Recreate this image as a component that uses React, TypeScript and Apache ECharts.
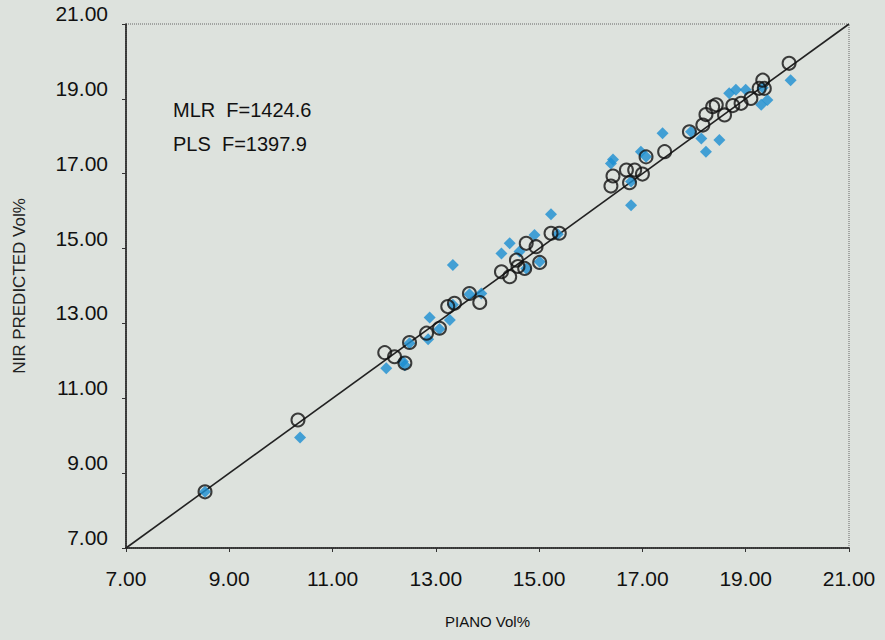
import React, { useEffect, useRef } from "react";
import * as echarts from "echarts";

const axisTicks = [7, 9, 11, 13, 15, 17, 19, 21];
const identityLine: [number, number][] = [[7, 7], [21, 21]];

const mlrPoints: [number, number][] = [
  [8.53, 8.5], [10.37, 9.95], [12.04, 11.8], [12.36, 11.98], [12.4, 11.88],
  [12.49, 12.47], [12.85, 12.58], [12.88, 13.16], [13.07, 12.85], [13.27, 13.09],
  [13.33, 13.5], [13.33, 14.56], [13.65, 13.78], [13.88, 13.8], [14.27, 14.87],
  [14.43, 15.14], [14.62, 14.92], [14.75, 14.47], [14.91, 15.36], [15.01, 14.65],
  [15.23, 15.92], [15.36, 15.38], [16.39, 17.27], [16.43, 17.38], [16.78, 16.79],
  [16.78, 16.16], [16.97, 17.59], [17.07, 17.45], [17.39, 18.08], [17.94, 18.12],
  [18.14, 17.94], [18.23, 17.59], [18.49, 17.9], [18.68, 19.15], [18.81, 19.24],
  [19.0, 19.24], [19.3, 18.84], [19.42, 18.97], [19.33, 19.3], [19.87, 19.5],
];

const plsPoints: [number, number][] = [
  [8.53, 8.5], [10.33, 10.42], [12.01, 12.22], [12.2, 12.11], [12.4, 11.94],
  [12.49, 12.49], [12.82, 12.74], [13.07, 12.87], [13.23, 13.45], [13.36, 13.54],
  [13.65, 13.8], [13.85, 13.56], [14.27, 14.38], [14.43, 14.25], [14.56, 14.69],
  [14.59, 14.52], [14.72, 14.47], [14.75, 15.14], [14.94, 15.05], [15.01, 14.63],
  [15.23, 15.41], [15.39, 15.41], [16.39, 16.67], [16.43, 16.94], [16.69, 17.1],
  [16.75, 16.76], [16.85, 17.1], [17.0, 16.99], [17.07, 17.45], [17.43, 17.59],
  [17.91, 18.12], [18.17, 18.3], [18.23, 18.58], [18.36, 18.79], [18.43, 18.84],
  [18.59, 18.57], [18.75, 18.82], [18.91, 18.88], [19.1, 19.01], [19.26, 19.28],
  [19.36, 19.28], [19.33, 19.5], [19.84, 19.95],
];

const annotations = ["MLR  F=1424.6", "PLS  F=1397.9"];

const FONT = "'Liberation Sans', Arial, sans-serif";

export default function App() {
  const ref = useRef<HTMLDivElement>(null);
  useEffect(() => {
    if (!ref.current) return;
    const chart = echarts.init(ref.current, undefined, { renderer: "svg" });
    const axisCommon = {
      type: "value" as const,
      min: axisTicks[0],
      max: axisTicks[axisTicks.length - 1],
      interval: 2,
      splitLine: { show: false },
      axisLine: { show: true, lineStyle: { color: "#111", width: 1.5 } },
      axisTick: { show: true, length: 4, lineStyle: { color: "#333" } },
      nameLocation: "middle" as const,
    };
    chart.setOption({
      animation: false,
      backgroundColor: "#dde2dd",
      textStyle: { fontFamily: FONT },
      grid: {
        left: 126,
        right: 36,
        top: 24,
        bottom: 92,
        show: true,
        borderColor: "#666",
        borderWidth: 1,
        borderType: "dotted",
      } as any,
      xAxis: {
        ...axisCommon,
        name: "PIANO Vol%",
        nameGap: 66,
        nameTextStyle: { fontSize: 15, color: "#111", fontFamily: FONT },
        axisLabel: {
          fontSize: 21,
          color: "#111",
          margin: 20,
          formatter: (v: number) => v.toFixed(2),
        },
      },
      yAxis: {
        ...axisCommon,
        name: "NIR PREDICTED Vol%",
        nameGap: 98,
        nameTextStyle: { fontSize: 17, color: "#222", fontFamily: FONT },
        axisLabel: {
          fontSize: 21,
          color: "#111",
          margin: 18,
          verticalAlign: "bottom",
          formatter: (v: number) => v.toFixed(2),
        },
      },
      graphic: annotations.map((t, i) => ({
        type: "text",
        left: 173,
        top: 100 + i * 34,
        style: { text: t, fontSize: 20, fill: "#111", fontFamily: FONT },
      })),
      series: [
        {
          name: "identity",
          type: "line",
          data: identityLine,
          symbol: "none",
          lineStyle: { color: "#222", width: 1.6 },
          z: 1,
        },
        {
          name: "MLR",
          type: "scatter",
          data: mlrPoints,
          symbol: "diamond",
          symbolSize: 12,
          itemStyle: { color: "#1c8fd2" },
          z: 2,
        },
        {
          name: "PLS",
          type: "scatter",
          data: plsPoints,
          symbol: "circle",
          symbolSize: 13,
          itemStyle: { color: "rgba(0,0,0,0)", borderColor: "#111", borderWidth: 2 },
          z: 3,
        },
      ],
    });
    return () => chart.dispose();
  }, []);
  return <div ref={ref} style={{ width: 885, height: 640, position: "absolute", left: 0, top: 0 }} />;
}
